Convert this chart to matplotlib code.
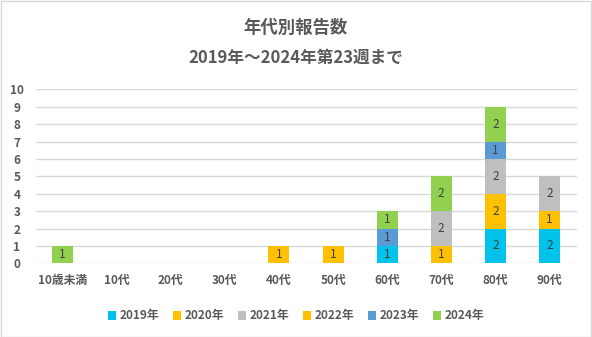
import matplotlib
matplotlib.use("Agg")
import matplotlib.pyplot as plt
from matplotlib.patches import Rectangle
import numpy as np

plt.rcParams['font.family'] = ['Noto Sans CJK JP', 'DejaVu Sans']

categories = ["10歳未満", "10代", "20代", "30代", "40代", "50代", "60代", "70代", "80代", "90代"]
years = ["2019年", "2020年", "2021年", "2022年", "2023年", "2024年"]
v2019 = [0, 0, 0, 0, 0, 0, 1, 0, 2, 2]
v2020 = [0, 0, 0, 0, 0, 0, 0, 1, 2, 1]
v2021 = [0, 0, 0, 0, 0, 0, 0, 2, 2, 2]
v2022 = [0, 0, 0, 0, 1, 1, 0, 0, 0, 0]
v2023 = [0, 0, 0, 0, 0, 0, 1, 0, 1, 0]
v2024 = [1, 0, 0, 0, 0, 0, 1, 2, 2, 0]
series = [v2019, v2020, v2021, v2022, v2023, v2024]
colors = ["#00C3EB", "#FFC000", "#BFBFBF", "#FFC000", "#5B9BD5", "#92D050"]

W, H = 592, 337
fig = plt.figure(figsize=(W / 100, H / 100), dpi=100)
ax = fig.add_axes([35.5 / W, 1 - 263.3 / H, 541 / W, (263.3 - 89.3) / H])

x = np.arange(len(categories))
bottom = np.zeros(len(categories))
for name, vals, col in zip(years, series, colors):
    vals = np.array(vals, dtype=float)
    bars = ax.bar(x, vals, width=0.39, bottom=bottom, color=col, label=name, zorder=3)
    for rect, v, b in zip(bars, vals, bottom):
        if v > 0:
            ax.text(rect.get_x() + rect.get_width() / 2, b + v / 2, f"{int(v)}",
                    ha="center", va="center", fontsize=8.5, color="#404040", zorder=4)
    bottom += vals

ax.set_xlim(-0.5, len(categories) - 0.5)
ax.set_ylim(0, 10)
ax.set_yticks(range(0, 11))
ax.yaxis.grid(True, color="#D9D9D9", linewidth=1, zorder=0)
ax.set_axisbelow(True)
for s in ax.spines.values():
    s.set_visible(False)
ax.tick_params(axis="both", length=0, colors="#595959", labelsize=8.5)
ax.tick_params(axis="y", pad=13.5)
ax.tick_params(axis="x", pad=8)
ax.set_xticks(x)
ax.set_xticklabels(categories)
for lbl in ax.get_yticklabels():
    lbl.set_horizontalalignment("center")
for lbl in ax.get_xticklabels() + ax.get_yticklabels():
    lbl.set_fontweight("bold")

fig.text(0.5, 1 - 28 / H, "年代別報告数", ha="center", va="center",
         fontsize=12.5, fontweight="bold", color="#595959")
fig.text(0.5, 1 - 58 / H, "2019年～2024年第23週まで", ha="center", va="center",
         fontsize=12, fontweight="bold", color="#595959")

leg = fig.legend(loc="center", bbox_to_anchor=(0.5, 1 - 316 / H), ncol=6, frameon=False,
                 fontsize=8.5, handlelength=0.7, handleheight=0.7, handletextpad=0.3,
                 columnspacing=1.15)
for t in leg.get_texts():
    t.set_color("#595959")
    t.set_fontweight("bold")

fig.patches.append(Rectangle((0.5 / W, 0.5 / H), 1 - 1.5 / W, 1 - 1.5 / H, transform=fig.transFigure,
                             fill=False, edgecolor="#D9D9D9", linewidth=1))

fig.savefig("out.png", dpi=100)
